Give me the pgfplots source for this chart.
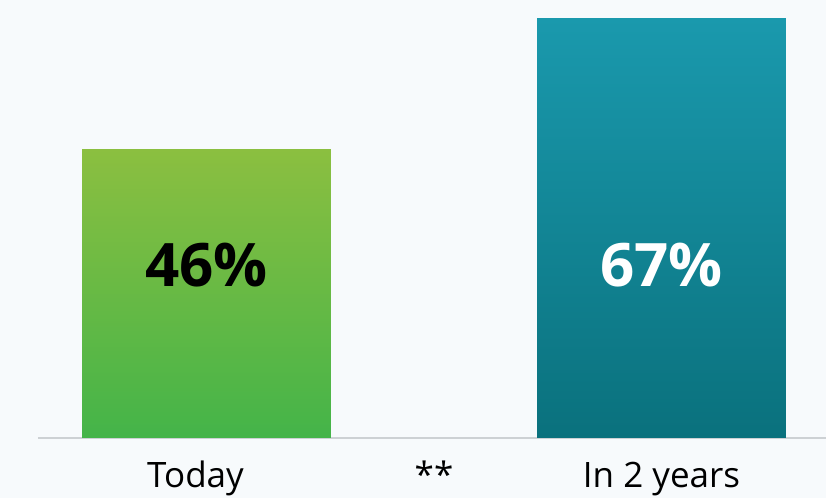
\documentclass[border=0pt]{standalone}
\usepackage{pgfplots}
\pgfplotsset{compat=1.18}
\usepackage{fontspec}
\setmainfont{Open Sans}
\definecolor{bgc}{HTML}{F7FAFC}
\definecolor{gtop}{HTML}{8BBF40}
\definecolor{gmid}{HTML}{87BE40}
\definecolor{gbot}{HTML}{44B449}
\definecolor{ttop}{HTML}{1A99AD}
\definecolor{tmid}{HTML}{1795A8}
\definecolor{tbot}{HTML}{0A717D}
\definecolor{axc}{HTML}{CDD1D4}
\begin{document}
\begin{tikzpicture}
\fill[bgc] (-19pt,-30pt) rectangle (394pt,219pt);
\begin{axis}[
  scale only axis,
  width=394pt, height=219pt,
  xmin=-0.3703, xmax=1.3615,
  ymin=0, ymax=69.9,
  axis x line=bottom,
  axis y line=none,
  axis line style={-, draw=axc, line width=0.8pt},
  xtick={0,0.5,1},
  xticklabels={Today\hspace*{11pt},**,In 2 years},
  major tick length=0pt,
  xticklabel style={font=\fontsize{17.5}{20}\selectfont, anchor=base, yshift=-25pt},
  ybar, bar width=0.547, bar shift=0pt,
  clip=false,
]
\addplot[draw=none, top color=gtop, middle color=gmid, bottom color=gbot,
  nodes near coords={\bfseries 46\%},
  every node near coord/.append style={font=\fontsize{30}{32}\selectfont, text=black, anchor=center, yshift=-57.6pt}]
  coordinates {(0,46)};
\addplot[draw=none, top color=ttop, middle color=tmid, bottom color=tbot,
  nodes near coords={\bfseries 67\%},
  every node near coord/.append style={font=\fontsize{30}{32}\selectfont, text=white, anchor=center, yshift=-123.4pt}]
  coordinates {(1,67)};
\end{axis}
\pgfresetboundingbox
\useasboundingbox (-19pt,-30pt) rectangle (394pt,219pt);
\end{tikzpicture}
\end{document}
